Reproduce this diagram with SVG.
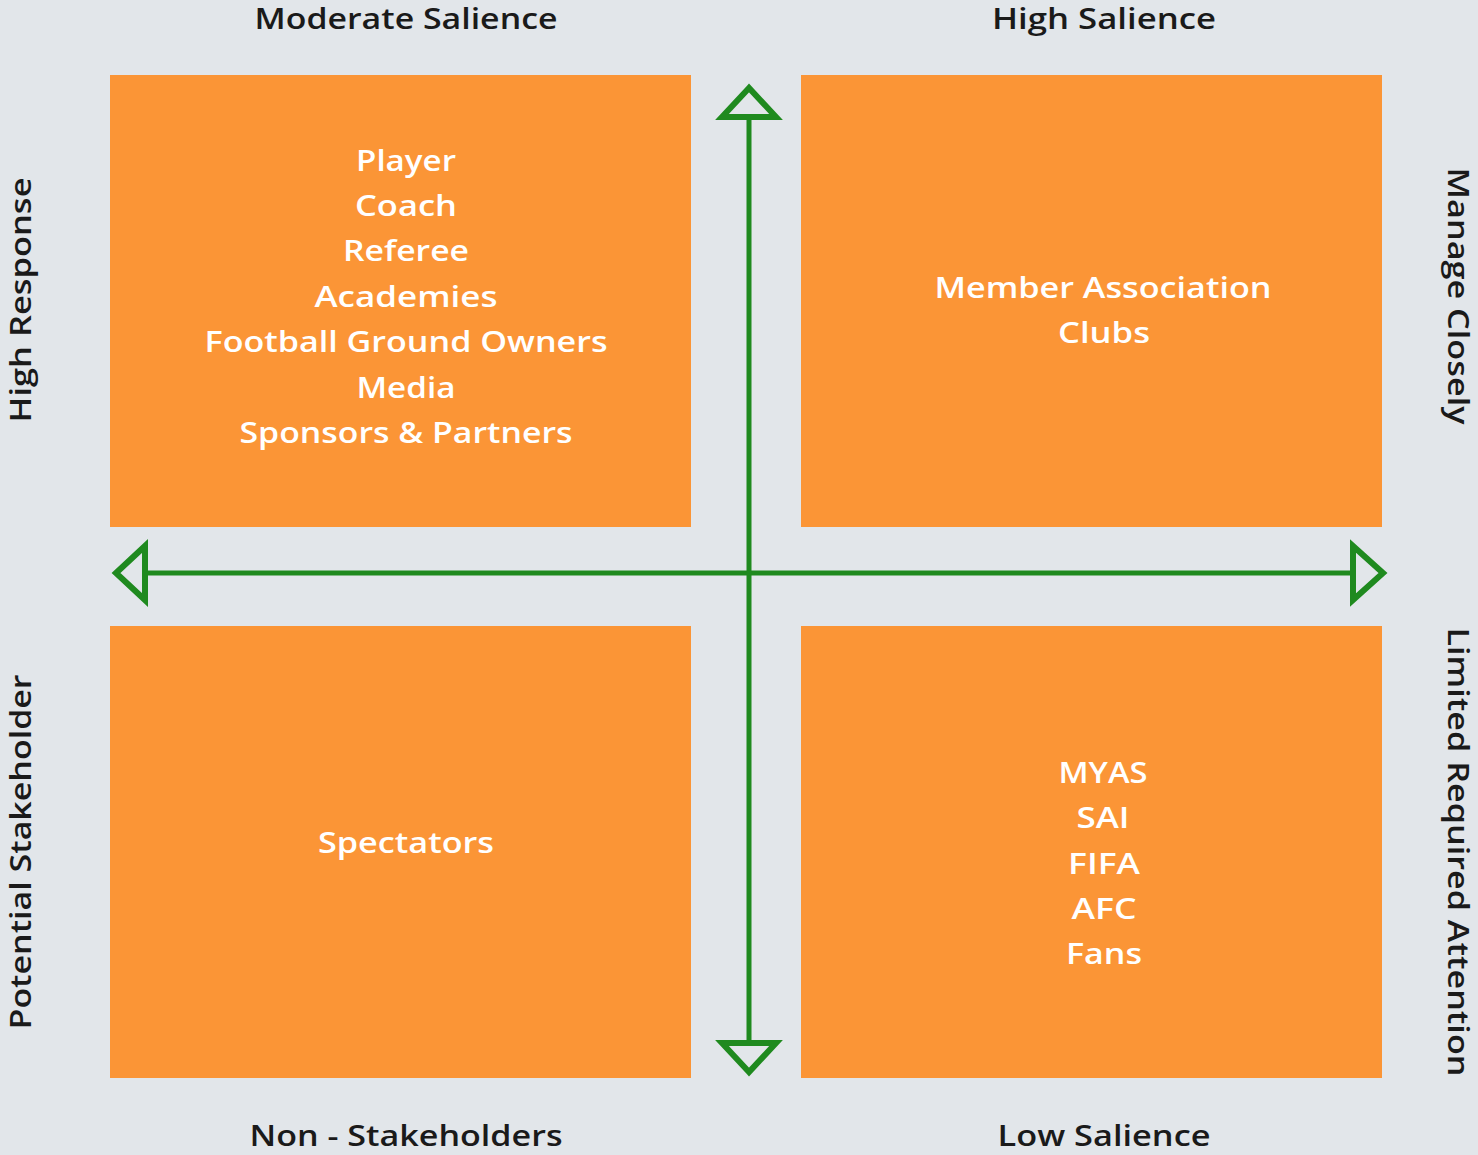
<svg xmlns="http://www.w3.org/2000/svg" width="1478" height="1155" viewBox="0 0 1478 1155">
<style>
.bg{fill:#e2e6ea}
.box{fill:#fb9536}
.lbl{font-family:"Open Sans","Liberation Sans",sans-serif;font-size:29px;font-weight:600;fill:#1a1a1a;text-anchor:middle}
.in{font-family:"Open Sans","Liberation Sans",sans-serif;font-size:29px;font-weight:600;fill:#ffffff;text-anchor:middle}
.ax{stroke:#1f8a1f;stroke-width:5;fill:none}
.ah{stroke:#1f8a1f;stroke-width:6;fill:#e2e6ea;stroke-linejoin:miter}
</style>
<rect class="bg" x="0" y="0" width="1478" height="1155"/>
<g id="q-moderate">
<rect class="box" x="110" y="75" width="581" height="452"/>
<text class="in" x="406" y="171" textLength="100" lengthAdjust="spacingAndGlyphs">Player</text>
<text class="in" x="406" y="216" textLength="102" lengthAdjust="spacingAndGlyphs">Coach</text>
<text class="in" x="406" y="261" textLength="126" lengthAdjust="spacingAndGlyphs">Referee</text>
<text class="in" x="406" y="307" textLength="183" lengthAdjust="spacingAndGlyphs">Academies</text>
<text class="in" x="406" y="352" textLength="403" lengthAdjust="spacingAndGlyphs">Football Ground Owners</text>
<text class="in" x="406" y="398" textLength="99" lengthAdjust="spacingAndGlyphs">Media</text>
<text class="in" x="406" y="443" textLength="333" lengthAdjust="spacingAndGlyphs">Sponsors &amp; Partners</text>
</g>
<g id="q-high">
<rect class="box" x="801" y="75" width="581" height="452"/>
<text class="in" x="1103" y="298" textLength="337" lengthAdjust="spacingAndGlyphs">Member Association</text>
<text class="in" x="1104" y="343" textLength="92" lengthAdjust="spacingAndGlyphs">Clubs</text>
</g>
<g id="q-non">
<rect class="box" x="110" y="626" width="581" height="452"/>
<text class="in" x="406" y="853" textLength="176" lengthAdjust="spacingAndGlyphs">Spectators</text>
</g>
<g id="q-low">
<rect class="box" x="801" y="626" width="581" height="452"/>
<text class="in" x="1103" y="783" textLength="89" lengthAdjust="spacingAndGlyphs">MYAS</text>
<text class="in" x="1103" y="828" textLength="53" lengthAdjust="spacingAndGlyphs">SAI</text>
<text class="in" x="1104" y="874" textLength="72" lengthAdjust="spacingAndGlyphs">FIFA</text>
<text class="in" x="1104" y="919" textLength="65" lengthAdjust="spacingAndGlyphs">AFC</text>
<text class="in" x="1104" y="964" textLength="76" lengthAdjust="spacingAndGlyphs">Fans</text>
</g>
<g id="labels">
<text class="lbl" x="406" y="29" textLength="303" lengthAdjust="spacingAndGlyphs">Moderate Salience</text>
<text class="lbl" x="1104" y="29" textLength="224" lengthAdjust="spacingAndGlyphs">High Salience</text>
<text class="lbl" x="406" y="1146" textLength="313" lengthAdjust="spacingAndGlyphs">Non - Stakeholders</text>
<text class="lbl" x="1104" y="1146" textLength="213" lengthAdjust="spacingAndGlyphs">Low Salience</text>
<text class="lbl" transform="translate(31,300) rotate(-90)" x="0" y="0" textLength="245" lengthAdjust="spacingAndGlyphs">High Response</text>
<text class="lbl" transform="translate(31,852) rotate(-90)" x="0" y="0" textLength="355" lengthAdjust="spacingAndGlyphs">Potential Stakeholder</text>
<text class="lbl" transform="translate(1448,296) rotate(90)" x="0" y="0" textLength="257" lengthAdjust="spacingAndGlyphs">Manage Closely</text>
<text class="lbl" transform="translate(1448,852) rotate(90)" x="0" y="0" textLength="449" lengthAdjust="spacingAndGlyphs">Limited Required Attention</text>
</g>
<g id="connectors">
<line class="ax" x1="749" y1="118" x2="749" y2="1042"/>
<line class="ax" x1="146" y1="573" x2="1352" y2="573"/>
<polygon class="ah" points="749,88 722,117 776,117"/>
<polygon class="ah" points="749,1072 722,1043 776,1043"/>
<polygon class="ah" points="116,573 145,546 145,600"/>
<polygon class="ah" points="1383,573 1353,546 1353,600"/>
</g>
</svg>
